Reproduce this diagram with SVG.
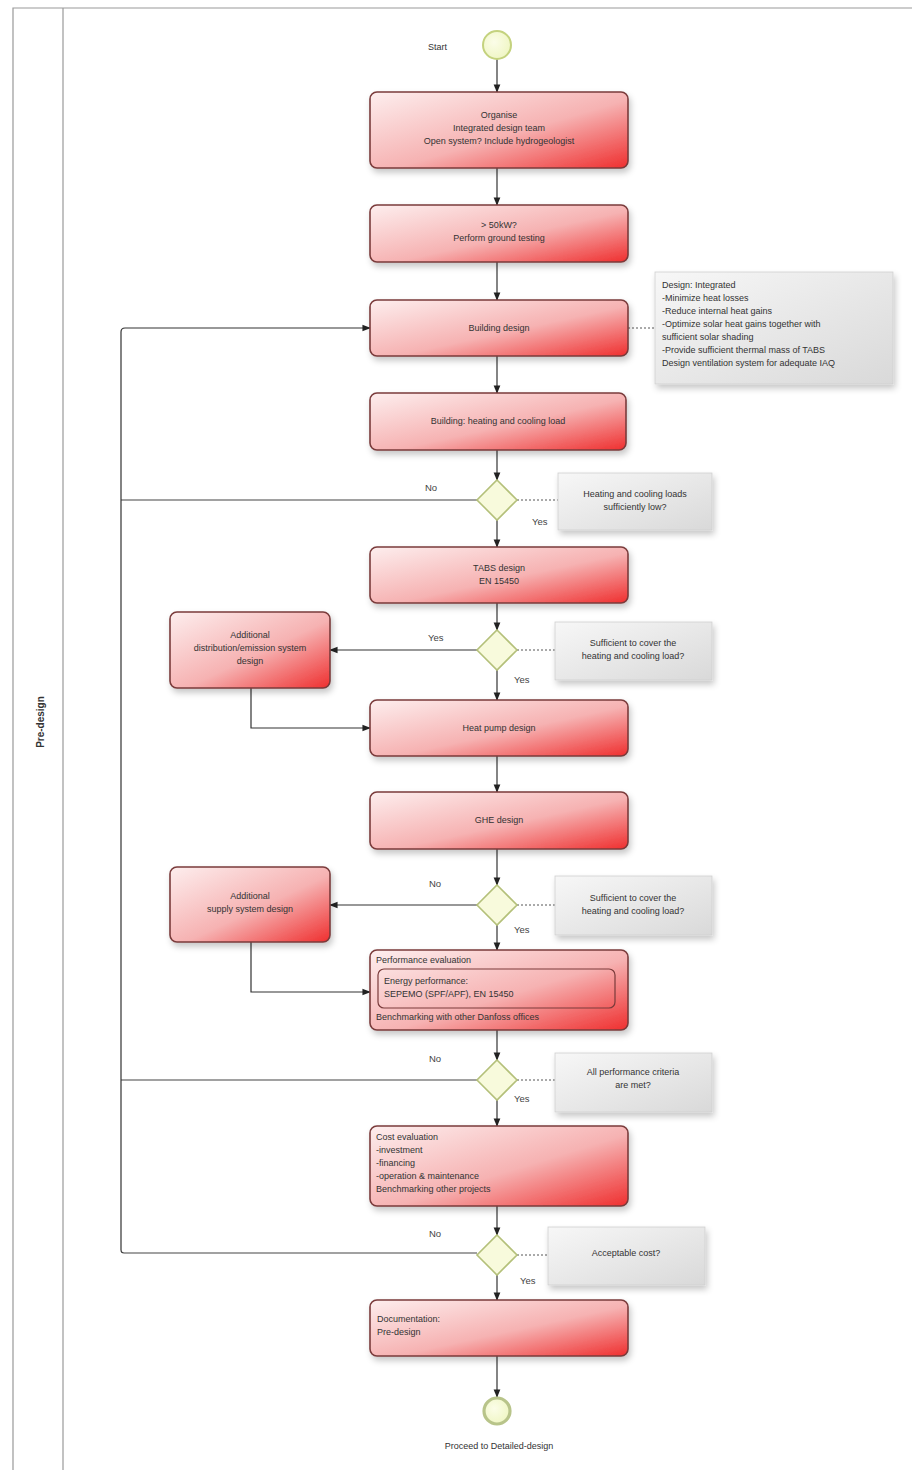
<svg xmlns="http://www.w3.org/2000/svg" width="918" height="1470" viewBox="0 0 918 1470">
<defs>
  <linearGradient id="taskFill" x1="0" y1="0" x2="1" y2="1">
    <stop offset="0" stop-color="#fdeeee"/>
    <stop offset="0.55" stop-color="#f6b2b2"/>
    <stop offset="1" stop-color="#ef2f2f"/>
  </linearGradient>
  <linearGradient id="noteFill" x1="0" y1="0" x2="1" y2="1">
    <stop offset="0" stop-color="#f7f7f7"/>
    <stop offset="1" stop-color="#d9d9d9"/>
  </linearGradient>
  <radialGradient id="eventFill" cx="0.4" cy="0.4" r="0.7">
    <stop offset="0" stop-color="#fbfde8"/>
    <stop offset="1" stop-color="#eef5c0"/>
  </radialGradient>
  <filter id="shadow" x="-10%" y="-10%" width="125%" height="140%">
    <feDropShadow dx="2" dy="4" stdDeviation="3" flood-color="#000" flood-opacity="0.22"/>
  </filter>
  <marker id="arrow" viewBox="0 0 10 10" refX="9" refY="5" markerWidth="7" markerHeight="7" orient="auto">
    <path d="M0,1 L10,5 L0,9 z" fill="#222"/>
  </marker>
  <style>
    .task { fill: url(#taskFill); stroke: #7a3b3b; stroke-width: 1.6; filter: url(#shadow); }
    .inner { fill: none; stroke: #7a3b3b; stroke-width: 1.2; }
    .note { fill: url(#noteFill); stroke: #cfcfcf; stroke-width: 0.8; filter: url(#shadow); }
    .gate { fill: #f8fadc; stroke: #b4c07a; stroke-width: 1.6; }
    .event { fill: url(#eventFill); stroke: #c4d27e; stroke-width: 2; }
    .flow { fill: none; stroke: #333; stroke-width: 1.2; marker-end: url(#arrow); }
    .line { fill: none; stroke: #444; stroke-width: 1.2; }
    .assoc { fill: none; stroke: #555; stroke-width: 1; stroke-dasharray: 2 2; }
    .lane { fill: none; stroke: #999; stroke-width: 1.2; }
    text { font-family: "Liberation Sans", Arial, sans-serif; font-size: 9px; fill: #333; }
    .c { text-anchor: middle; }
    .lbl { font-size: 9.5px; fill: #444; }
  </style>
</defs>

<rect width="918" height="1470" fill="#ffffff"/>

<!-- pool and lane -->
<g id="lane">
  <path class="lane" d="M13,1470 V8 H912"/>
  <line class="lane" x1="63" y1="8" x2="63" y2="1470"/>
  <text transform="translate(44,722) rotate(-90)" class="c" style="font-weight:bold;font-size:10px">Pre-design</text>
</g>

<!-- connectors -->
<g id="connectors">
  <line class="flow" x1="497" y1="59" x2="497" y2="92"/>
  <line class="flow" x1="497" y1="168" x2="497" y2="205"/>
  <line class="flow" x1="497" y1="262" x2="497" y2="300"/>
  <line class="flow" x1="497" y1="356" x2="497" y2="393"/>
  <line class="flow" x1="497" y1="450" x2="497" y2="480"/>
  <line class="flow" x1="497" y1="520" x2="497" y2="547"/>
  <line class="flow" x1="497" y1="603" x2="497" y2="630"/>
  <line class="flow" x1="497" y1="670" x2="497" y2="700"/>
  <line class="flow" x1="497" y1="756" x2="497" y2="792"/>
  <line class="flow" x1="497" y1="849" x2="497" y2="885"/>
  <line class="flow" x1="497" y1="925" x2="497" y2="950"/>
  <line class="flow" x1="497" y1="1030" x2="497" y2="1060"/>
  <line class="flow" x1="497" y1="1100" x2="497" y2="1126"/>
  <line class="flow" x1="497" y1="1206" x2="497" y2="1235"/>
  <line class="flow" x1="497" y1="1275" x2="497" y2="1300"/>
  <line class="flow" x1="497" y1="1356" x2="497" y2="1397"/>

  <!-- loop back to building design -->
  <path class="line" d="M477,500 H121"/>
  <path class="line" d="M477,1080 H121"/>
  <path class="line" d="M477,1253 H124 Q121,1253 121,1250"/>
  <path class="flow" d="M121,1250 V332 Q121,328 125,328 H370"/>

  <!-- side branches -->
  <line class="flow" x1="477" y1="650" x2="330" y2="650"/>
  <path class="flow" d="M251,688 V728 H370"/>
  <line class="flow" x1="477" y1="905" x2="330" y2="905"/>
  <path class="flow" d="M251,942 V992 H370"/>

  <!-- annotation links -->
  <line class="assoc" x1="628" y1="328" x2="655" y2="328"/>
  <line class="assoc" x1="517" y1="500" x2="558" y2="500"/>
  <line class="assoc" x1="517" y1="650" x2="555" y2="650"/>
  <line class="assoc" x1="517" y1="905" x2="555" y2="905"/>
  <line class="assoc" x1="517" y1="1080" x2="555" y2="1080"/>
  <line class="assoc" x1="517" y1="1255" x2="548" y2="1255"/>

  <!-- gateway labels -->
  <text class="lbl" x="425" y="491">No</text>
  <text class="lbl" x="532" y="525">Yes</text>
  <text class="lbl" x="428" y="641">Yes</text>
  <text class="lbl" x="514" y="683">Yes</text>
  <text class="lbl" x="429" y="887">No</text>
  <text class="lbl" x="514" y="933">Yes</text>
  <text class="lbl" x="429" y="1062">No</text>
  <text class="lbl" x="514" y="1102">Yes</text>
  <text class="lbl" x="429" y="1237">No</text>
  <text class="lbl" x="520" y="1284">Yes</text>
</g>

<g id="start">
  <circle class="event" cx="497" cy="45" r="14"/>
  <text x="428" y="50">Start</text>
</g>

<g id="organise">
  <rect class="task" x="370" y="92" width="258" height="76" rx="7"/>
  <text class="c" x="499" y="118">Organise</text>
  <text class="c" x="499" y="131">Integrated design team</text>
  <text class="c" x="499" y="144">Open system? Include hydrogeologist</text>
</g>

<g id="ground-testing">
  <rect class="task" x="370" y="205" width="258" height="57" rx="7"/>
  <text class="c" x="499" y="228">&gt; 50kW?</text>
  <text class="c" x="499" y="241">Perform ground testing</text>
</g>

<g id="building-design">
  <rect class="task" x="370" y="300" width="258" height="56" rx="7"/>
  <text class="c" x="499" y="331">Building design</text>
</g>

<g id="note-design">
  <rect class="note" x="655" y="272" width="238" height="112"/>
  <text x="662" y="288">Design: Integrated</text>
  <text x="662" y="301">-Minimize heat losses</text>
  <text x="662" y="314">-Reduce internal heat gains</text>
  <text x="662" y="327">-Optimize solar heat gains together with</text>
  <text x="662" y="340">sufficient solar shading</text>
  <text x="662" y="353">-Provide sufficient thermal mass of TABS</text>
  <text x="662" y="366">Design ventilation system for adequate IAQ</text>
</g>

<g id="loads">
  <rect class="task" x="370" y="393" width="256" height="57" rx="7"/>
  <text class="c" x="498" y="424">Building: heating and cooling load</text>
</g>

<g id="gw-loads">
  <path class="gate" d="M497,480 L517,500 L497,520 L477,500 z"/>
</g>
<g id="note-loads">
  <rect class="note" x="558" y="473" width="154" height="57"/>
  <text class="c" x="635" y="497">Heating and cooling loads</text>
  <text class="c" x="635" y="510">sufficiently low?</text>
</g>

<g id="tabs">
  <rect class="task" x="370" y="547" width="258" height="56" rx="7"/>
  <text class="c" x="499" y="571">TABS design</text>
  <text class="c" x="499" y="584">EN 15450</text>
</g>

<g id="gw-tabs">
  <path class="gate" d="M497,630 L517,650 L497,670 L477,650 z"/>
</g>
<g id="note-tabs">
  <rect class="note" x="555" y="622" width="157" height="58"/>
  <text class="c" x="633" y="646">Sufficient to cover the</text>
  <text class="c" x="633" y="659">heating and cooling load?</text>
</g>

<g id="additional-distribution">
  <rect class="task" x="170" y="612" width="160" height="76" rx="7"/>
  <text class="c" x="250" y="638">Additional</text>
  <text class="c" x="250" y="651">distribution/emission system</text>
  <text class="c" x="250" y="664">design</text>
</g>

<g id="heat-pump">
  <rect class="task" x="370" y="700" width="258" height="56" rx="7"/>
  <text class="c" x="499" y="731">Heat pump design</text>
</g>

<g id="ghe">
  <rect class="task" x="370" y="792" width="258" height="57" rx="7"/>
  <text class="c" x="499" y="823">GHE design</text>
</g>

<g id="gw-ghe">
  <path class="gate" d="M497,885 L517,905 L497,925 L477,905 z"/>
</g>
<g id="note-ghe">
  <rect class="note" x="555" y="876" width="157" height="59"/>
  <text class="c" x="633" y="901">Sufficient to cover the</text>
  <text class="c" x="633" y="914">heating and cooling load?</text>
</g>

<g id="additional-supply">
  <rect class="task" x="170" y="867" width="160" height="75" rx="7"/>
  <text class="c" x="250" y="899">Additional</text>
  <text class="c" x="250" y="912">supply system design</text>
</g>

<g id="performance">
  <rect class="task" x="370" y="950" width="258" height="80" rx="7"/>
  <text x="376" y="963">Performance evaluation</text>
  <rect class="inner" x="378" y="969" width="237" height="39" rx="6"/>
  <text x="384" y="984">Energy performance:</text>
  <text x="384" y="997">SEPEMO (SPF/APF), EN 15450</text>
  <text x="376" y="1020">Benchmarking with other Danfoss offices</text>
</g>

<g id="gw-performance">
  <path class="gate" d="M497,1060 L517,1080 L497,1100 L477,1080 z"/>
</g>
<g id="note-performance">
  <rect class="note" x="555" y="1053" width="157" height="59"/>
  <text class="c" x="633" y="1075">All performance criteria</text>
  <text class="c" x="633" y="1088">are met?</text>
</g>

<g id="cost">
  <rect class="task" x="370" y="1126" width="258" height="80" rx="7"/>
  <text x="376" y="1140">Cost evaluation</text>
  <text x="376" y="1153">-investment</text>
  <text x="376" y="1166">-financing</text>
  <text x="376" y="1179">-operation &amp; maintenance</text>
  <text x="376" y="1192">Benchmarking other projects</text>
</g>

<g id="gw-cost">
  <path class="gate" d="M497,1235 L517,1255 L497,1275 L477,1255 z"/>
</g>
<g id="note-cost">
  <rect class="note" x="548" y="1227" width="157" height="58"/>
  <text class="c" x="626" y="1256">Acceptable cost?</text>
</g>

<g id="documentation">
  <rect class="task" x="370" y="1300" width="258" height="56" rx="7"/>
  <text x="377" y="1322">Documentation:</text>
  <text x="377" y="1335">Pre-design</text>
</g>

<g id="end">
  <circle class="event" cx="497" cy="1411" r="13" style="stroke-width:3.2;stroke:#b8c48a"/>
  <text class="c" x="499" y="1449">Proceed to Detailed-design</text>
</g>
</svg>
